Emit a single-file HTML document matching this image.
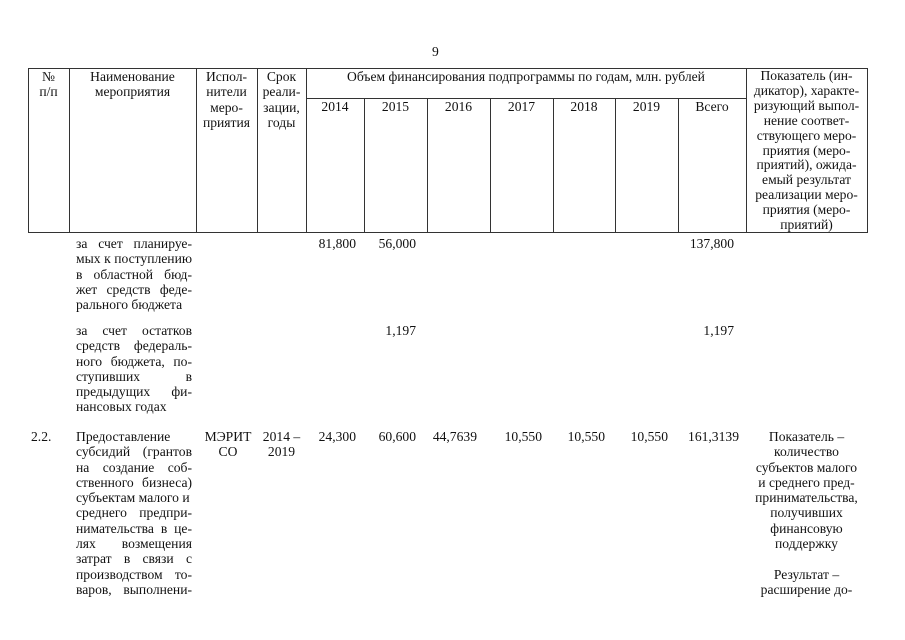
<!DOCTYPE html>
<html><head><meta charset="utf-8"><style>
body{margin:0;background:#fff;width:905px;height:640px;position:relative;overflow:hidden;font-family:"Liberation Serif","DejaVu Serif",serif;font-size:13.6px;color:#111;}
.a{position:absolute;white-space:nowrap;line-height:15.3px;}
.h{position:absolute;background:#333;height:1px}
.v{position:absolute;background:#333;width:1px}
.c{text-align:center}
.r{text-align:right}
.col{position:absolute;left:76px;width:116px;line-height:15.3px}
.col div{white-space:nowrap}
.j{text-align:justify;text-align-last:justify}
</style></head><body>
<div class="a" style="left:432px;top:44px">9</div>
<div class="h" style="left:28px;top:68px;width:840px"></div>
<div class="h" style="left:306px;top:98px;width:440px"></div>
<div class="h" style="left:28px;top:232px;width:840px"></div>
<div class="v" style="left:28px;top:68px;height:165px"></div>
<div class="v" style="left:69px;top:68px;height:165px"></div>
<div class="v" style="left:196px;top:68px;height:165px"></div>
<div class="v" style="left:257px;top:68px;height:165px"></div>
<div class="v" style="left:306px;top:68px;height:165px"></div>
<div class="v" style="left:364px;top:98px;height:135px"></div>
<div class="v" style="left:427px;top:98px;height:135px"></div>
<div class="v" style="left:490px;top:98px;height:135px"></div>
<div class="v" style="left:553px;top:98px;height:135px"></div>
<div class="v" style="left:615px;top:98px;height:135px"></div>
<div class="v" style="left:678px;top:98px;height:135px"></div>
<div class="v" style="left:746px;top:68px;height:165px"></div>
<div class="v" style="left:867px;top:68px;height:165px"></div>
<div class="a c" style="left:28px;width:41px;top:69px">№<br>п/п</div>
<div class="a c" style="left:69px;width:127px;top:69px">Наименование<br>мероприятия</div>
<div class="a c" style="left:196px;width:61px;top:69px">Испол-<br>нители<br>меро-<br>приятия</div>
<div class="a c" style="left:257px;width:49px;top:69px">Срок<br>реали-<br>зации,<br>годы</div>
<div class="a c" style="left:306px;width:440px;top:69px">Объем финансирования подпрограммы по годам, млн. рублей</div>
<div class="a c" style="left:306px;width:58px;top:99px">2014</div>
<div class="a c" style="left:364px;width:63px;top:99px">2015</div>
<div class="a c" style="left:427px;width:63px;top:99px">2016</div>
<div class="a c" style="left:490px;width:63px;top:99px">2017</div>
<div class="a c" style="left:553px;width:62px;top:99px">2018</div>
<div class="a c" style="left:615px;width:63px;top:99px">2019</div>
<div class="a c" style="left:678px;width:68px;top:99px">Всего</div>
<div class="a c" style="left:746px;width:121px;top:69px;line-height:14.9px">Показатель (ин-<br>дикатор), характе-<br>ризующий выпол-<br>нение соответ-<br>ствующего меро-<br>приятия (меро-<br>приятий), ожида-<br>емый результат<br>реализации меро-<br>приятия (меро-<br>приятий)</div>
<div class="col" style="top:236px">
<div class="j">за счет планируе-</div><div class="j">мых к поступлению</div><div class="j">в областной бюд-</div><div class="j">жет средств феде-</div><div>рального бюджета</div></div>
<div class="a r" style="left:300px;width:56px;top:236px">81,800</div>
<div class="a r" style="left:360px;width:56px;top:236px">56,000</div>
<div class="a r" style="left:680px;width:54px;top:236px">137,800</div>
<div class="col" style="top:323px">
<div class="j">за счет остатков</div><div class="j">средств федераль-</div><div class="j">ного бюджета, по-</div><div class="j">ступивших в</div><div class="j">предыдущих фи-</div><div>нансовых годах</div></div>
<div class="a r" style="left:360px;width:56px;top:323px">1,197</div>
<div class="a r" style="left:680px;width:54px;top:323px">1,197</div>
<div class="a" style="left:31px;top:429px">2.2.</div>
<div class="col" style="top:429px">
<div class="j">Предоставление</div><div class="j">субсидий (грантов</div><div class="j">на создание соб-</div><div class="j">ственного бизнеса)</div><div>субъектам малого и</div><div class="j">среднего предпри-</div><div class="j">нимательства в це-</div><div class="j">лях возмещения</div><div class="j">затрат в связи с</div><div class="j">производством то-</div><div class="j">варов, выполнени-</div></div>
<div class="a c" style="left:198px;width:60px;top:429px">МЭРИТ<br>СО</div>
<div class="a c" style="left:257px;width:49px;top:429px">2014 –<br>2019</div>
<div class="a r" style="left:300px;width:56px;top:429px">24,300</div>
<div class="a r" style="left:360px;width:56px;top:429px">60,600</div>
<div class="a r" style="left:420px;width:57px;top:429px">44,7639</div>
<div class="a r" style="left:486px;width:56px;top:429px">10,550</div>
<div class="a r" style="left:549px;width:56px;top:429px">10,550</div>
<div class="a r" style="left:612px;width:56px;top:429px">10,550</div>
<div class="a r" style="left:680px;width:59px;top:429px">161,3139</div>
<div class="a c" style="left:746px;width:121px;top:429px">Показатель –<br>количество<br>субъектов малого<br>и среднего пред-<br>принимательства,<br>получивших<br>финансовую<br>поддержку<br><br>Результат –<br>расширение до-</div>
</body></html>
